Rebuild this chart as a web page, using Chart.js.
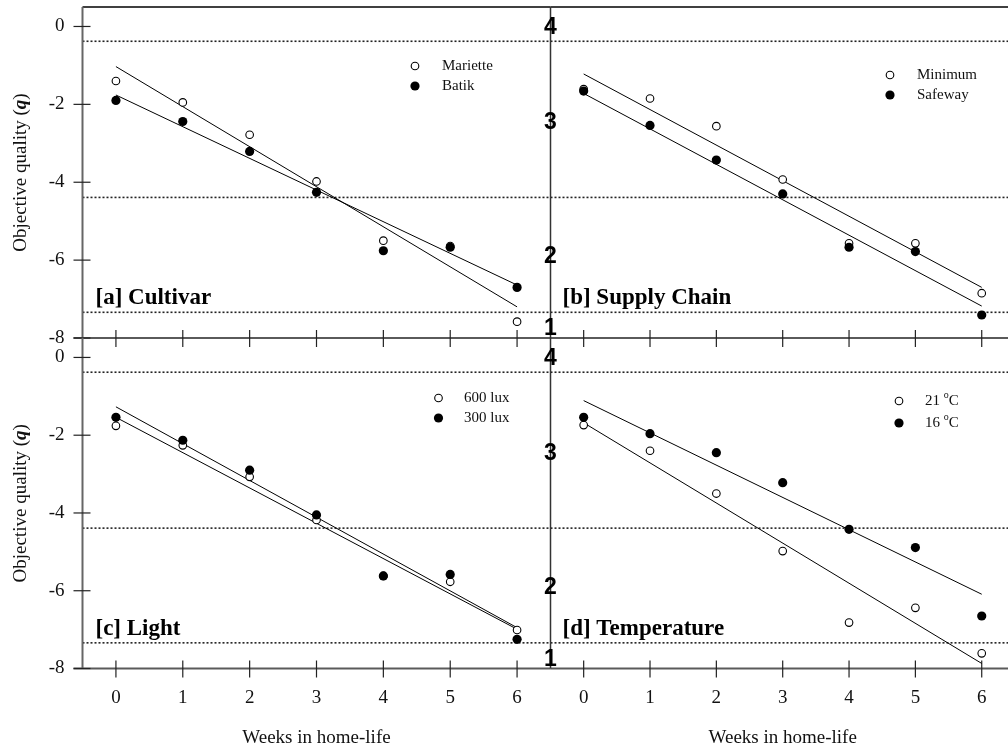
<!DOCTYPE html>
<html>
<head>
<meta charset="utf-8">
<script src="https://cdn.jsdelivr.net/npm/chart.js@4.4.1/dist/chart.umd.min.js"></script>
<style>
  html, body { margin: 0; padding: 0; background: #fff; overflow: hidden; }
  #wrap { position: relative; width: 1008px; height: 751px; overflow: hidden; background: #fff; }
  #wrap canvas { position: absolute; left: 0; top: 0; }
</style>
</head>
<body>
<div id="wrap">
  <canvas id="panelA" width="1020" height="751"></canvas>
  <canvas id="panelB" width="1020" height="751"></canvas>
  <canvas id="panelC" width="1020" height="751"></canvas>
  <canvas id="panelD" width="1020" height="751"></canvas>
</div>
<script>
// ---- data ----
const weeks = [0, 1, 2, 3, 4, 5, 6];
const fitWeeks = [0, 6];

// [a] Cultivar
const marietteQ = [-1.40, -1.95, -2.78, -3.98, -5.50, -5.64, -7.58];
const batikQ    = [-1.90, -2.44, -3.21, -4.26, -5.76, -5.67, -6.70];
const marietteFit = [-1.03, -7.20];
const batikFit    = [-1.76, -6.64];

// [b] Supply Chain
const minimumQ = [-1.61, -1.85, -2.56, -3.93, -5.57, -5.57, -6.85];
const safewayQ = [-1.66, -2.54, -3.43, -4.30, -5.67, -5.78, -7.41];
const minimumFit = [-1.22, -6.70];
const safewayFit = [-1.72, -7.18];

// [c] Light
const lux600Q = [-1.76, -2.26, -3.07, -4.18, -5.62, -5.77, -7.01];
const lux300Q = [-1.54, -2.13, -2.90, -4.05, -5.62, -5.58, -7.25];
const lux600Fit = [-1.54, -6.99];
const lux300Fit = [-1.27, -6.95];

// [d] Temperature
const temp21Q = [-1.74, -2.40, -3.50, -4.98, -6.82, -6.44, -7.61];
const temp16Q = [-1.54, -1.96, -2.45, -3.22, -4.42, -4.89, -6.65];
const temp21Fit = [-1.68, -7.87];
const temp16Fit = [-1.11, -6.09];

// axes
const yTicks = [0, -2, -4, -6, -8];
const xTicks = weeks;
const qualityBounds = [-0.38, -4.39, -7.34];       // dotted class boundaries
const classLabels = ['4', '3', '2', '1'];
const classLabelLevels = [-0.03, -2.47, -5.91, -7.76];

const SERIF = '"Liberation Serif", "Times New Roman", Times, serif';
const SANS = '"Liberation Sans", Arial, Helvetica, sans-serif';
const R_FILLED = 4.6, R_OPEN = 3.8;

function pts(q) { return weeks.map((w, i) => ({ x: w, y: q[i] })); }
function fitPts(f) { return fitWeeks.map((w, i) => ({ x: w, y: f[i] })); }

function drawMarker(ctx, x, y, filled) {
  ctx.beginPath();
  if (filled) {
    ctx.arc(x, y, R_FILLED, 0, Math.PI * 2);
    ctx.fillStyle = '#000';
    ctx.fill();
  } else {
    ctx.arc(x, y, R_OPEN, 0, Math.PI * 2);
    ctx.fillStyle = '#fff';
    ctx.fill();
    ctx.lineWidth = 1.1;
    ctx.strokeStyle = '#000';
    ctx.stroke();
  }
}

function drawLegendText(ctx, text, x, y) {
  ctx.font = '15px ' + SERIF;
  ctx.fillStyle = '#111';
  ctx.textAlign = 'left';
  ctx.textBaseline = 'middle';
  const k = text.indexOf('°');
  if (k < 0) { ctx.fillText(text, x, y); return; }
  const pre = text.slice(0, k), post = text.slice(k + 1);
  ctx.fillText(pre, x, y);
  let cx = x + ctx.measureText(pre).width;
  ctx.font = '10px ' + SERIF;
  ctx.fillText('o', cx, y - 6);
  cx += ctx.measureText('o').width;
  ctx.font = '15px ' + SERIF;
  ctx.fillText(post, cx, y);
}

function decorPlugin(p) {
  return {
    id: 'panelDecor',
    beforeDatasetsDraw(chart) {
      const ctx = chart.ctx, a = chart.chartArea;
      const xs = chart.scales.x, ys = chart.scales.y;
      ctx.save();

      // dotted quality-class boundaries
      ctx.strokeStyle = '#222';
      ctx.lineWidth = 1.6;
      ctx.setLineDash([2, 2]);
      qualityBounds.forEach(v => {
        const y = ys.getPixelForValue(v);
        ctx.beginPath(); ctx.moveTo(a.left, y); ctx.lineTo(a.right, y); ctx.stroke();
      });
      ctx.setLineDash([]);

      // top frame line
      if (p.top) {
        ctx.strokeStyle = '#000'; ctx.lineWidth = 1.5;
        ctx.beginPath(); ctx.moveTo(a.left, a.top); ctx.lineTo(a.right, a.top); ctx.stroke();
      }

      // bottom axis with crossing ticks
      ctx.strokeStyle = '#5a5a5a'; ctx.lineWidth = 2;
      ctx.beginPath(); ctx.moveTo(p.left ? a.left - 9 : a.left, a.bottom); ctx.lineTo(a.right, a.bottom); ctx.stroke();
      ctx.strokeStyle = '#222'; ctx.lineWidth = 1.2;
      xTicks.forEach(w => {
        const x = xs.getPixelForValue(w);
        ctx.beginPath(); ctx.moveTo(x, a.bottom - 8); ctx.lineTo(x, a.bottom + 9); ctx.stroke();
      });
      if (!p.top) {
        ctx.fillStyle = '#111'; ctx.font = '19px ' + SERIF;
        ctx.textAlign = 'center'; ctx.textBaseline = 'middle';
        xTicks.forEach(w => ctx.fillText(String(w), xs.getPixelForValue(w), a.bottom + 30));
        ctx.font = '19px ' + SERIF;
        ctx.fillText('Weeks in home-life', (a.left + a.right) / 2, a.bottom + 69.5);
      }

      if (p.left) {
        // left value axis
        ctx.strokeStyle = '#666'; ctx.lineWidth = 2;
        ctx.beginPath(); ctx.moveTo(a.left, a.top); ctx.lineTo(a.left, a.bottom); ctx.stroke();
        ctx.strokeStyle = '#222'; ctx.lineWidth = 1.2;
        ctx.fillStyle = '#111'; ctx.font = '19px ' + SERIF;
        ctx.textAlign = 'right'; ctx.textBaseline = 'middle';
        yTicks.forEach(v => {
          const y = ys.getPixelForValue(v);
          ctx.beginPath(); ctx.moveTo(a.left - 9, y); ctx.lineTo(a.left + 8, y); ctx.stroke();
          ctx.fillText(String(v), a.left - 18, y);
        });
        // rotated axis title with bold-italic q
        ctx.save();
        ctx.translate(21, (a.top + a.bottom) / 2);
        ctx.rotate(-Math.PI / 2);
        const f1 = '19px ' + SERIF, f2 = 'italic bold 19px ' + SERIF;
        const t1 = 'Objective quality (', t2 = 'q', t3 = ')';
        ctx.font = f1; const w1 = ctx.measureText(t1).width, w3 = ctx.measureText(t3).width;
        ctx.font = f2; const w2 = ctx.measureText(t2).width;
        let x0 = -(w1 + w2 + w3) / 2;
        ctx.textAlign = 'left'; ctx.textBaseline = 'middle';
        ctx.font = f1; ctx.fillText(t1, x0, 0); x0 += w1;
        ctx.font = f2; ctx.fillText(t2, x0, 0); x0 += w2;
        ctx.font = f1; ctx.fillText(t3, x0, 0);
        ctx.restore();
      } else {
        // centre divider carrying the quality-class scale
        ctx.strokeStyle = '#333'; ctx.lineWidth = 1.5;
        ctx.beginPath(); ctx.moveTo(a.left, a.top); ctx.lineTo(a.left, a.bottom); ctx.stroke();
        ctx.fillStyle = '#000'; ctx.font = 'bold 23px ' + SANS;
        ctx.textAlign = 'center'; ctx.textBaseline = 'middle';
        classLabels.forEach((t, i) => ctx.fillText(t, a.left, ys.getPixelForValue(classLabelLevels[i])));
      }

      // panel caption
      ctx.fillStyle = '#000'; ctx.font = 'bold 23px ' + SERIF;
      ctx.textAlign = 'left'; ctx.textBaseline = 'middle';
      ctx.fillText(p.caption, a.left + p.capDx, a.top + 291);

      // legend
      p.legend.forEach((s, i) => {
        const y = a.top + p.lg.y + i * p.lg.dy;
        drawMarker(ctx, a.left + p.lg.mx, y, s.filled);
        drawLegendText(ctx, s.name, a.left + p.lg.tx, y);
      });
      ctx.restore();
    }
  };
}

function buildPanel(canvasId, p) {
  const datasets = [];
  // filled series first so it sits on top where markers overlap
  [p.filled, p.open].forEach(s => {
    const filled = s === p.filled;
    datasets.push({
      label: s.name,
      data: pts(s.q),
      pointRadius: filled ? R_FILLED : R_OPEN,
      pointBackgroundColor: filled ? '#000' : '#fff',
      pointBorderColor: '#000',
      pointBorderWidth: filled ? 0 : 1.1,
      showLine: false
    });
  });
  [p.filled, p.open].forEach(s => {
    datasets.push({
      label: s.name + ' fit',
      data: fitPts(s.fit),
      showLine: true,
      borderColor: '#000',
      borderWidth: 1,
      pointRadius: 0,
      fill: false
    });
  });
  const W = 1020, H = 751;
  return new Chart(document.getElementById(canvasId), {
    type: 'scatter',
    data: { datasets },
    options: {
      responsive: false,
      animation: false,
      devicePixelRatio: 1,
      events: [],
      layout: { padding: { left: p.area.l, right: W - p.area.r, top: p.area.t, bottom: H - p.area.b } },
      plugins: { legend: { display: false }, tooltip: { enabled: false }, title: { display: false } },
      scales: {
        x: { type: 'linear', min: -0.5, max: 6.5, display: false },
        y: { type: 'linear', min: -8, max: 0.5, display: false }
      }
    },
    plugins: [decorPlugin({
      top: p.top, left: p.left, caption: p.caption, capDx: p.capDx, lg: p.lg,
      legend: [{ name: p.open.name, filled: false }, { name: p.filled.name, filled: true }]
    })]
  });
}

buildPanel('panelA', {
  area: { l: 82.5, r: 550.5, t: 7, b: 338 }, top: true, left: true,
  caption: '[a] Cultivar', capDx: 13,
  open: { name: 'Mariette', q: marietteQ, fit: marietteFit },
  filled: { name: 'Batik', q: batikQ, fit: batikFit },
  lg: { mx: 332.5, tx: 359.5, y: 59, dy: 20 }
});
buildPanel('panelB', {
  area: { l: 550.5, r: 1018.5, t: 7, b: 338 }, top: true, left: false,
  caption: '[b] Supply Chain', capDx: 12,
  open: { name: 'Minimum', q: minimumQ, fit: minimumFit },
  filled: { name: 'Safeway', q: safewayQ, fit: safewayFit },
  lg: { mx: 339.5, tx: 366.5, y: 68, dy: 20 }
});
buildPanel('panelC', {
  area: { l: 82.5, r: 550.5, t: 338, b: 668.5 }, top: false, left: true,
  caption: '[c] Light', capDx: 13,
  open: { name: '600 lux', q: lux600Q, fit: lux600Fit },
  filled: { name: '300 lux', q: lux300Q, fit: lux300Fit },
  lg: { mx: 356, tx: 381.5, y: 60, dy: 20 }
});
buildPanel('panelD', {
  area: { l: 550.5, r: 1018.5, t: 338, b: 668.5 }, top: false, left: false,
  caption: '[d] Temperature', capDx: 12,
  open: { name: '21 °C', q: temp21Q, fit: temp21Fit },
  filled: { name: '16 °C', q: temp16Q, fit: temp16Fit },
  lg: { mx: 348.5, tx: 374.5, y: 63, dy: 22 }
});
</script>
</body>
</html>
